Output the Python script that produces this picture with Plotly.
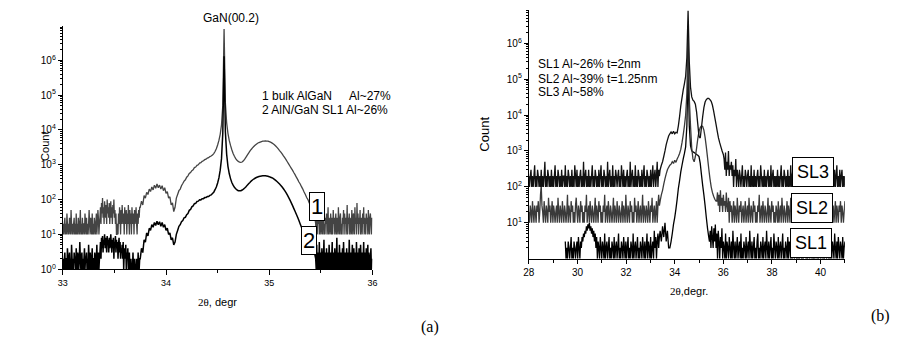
import numpy as np
import plotly.graph_objects as go

# ======================= Panel (a) =======================
# Each series is stored as scan segments: (2theta start, 2theta end, counts)
# curve 1: bulk AlGaN (gray)
A_BULK_X = [(33.0, 33.355), (33.36, 33.745), (33.75, 35.4375), (35.45, 35.995)]
A_BULK_NOISE_LEFT = [
    10, 20, 10, 20, 30, 10, 20, 10, 40, 20, 10, 20, 10, 30, 20, 10, 50, 20, 10, 20,
    10, 20, 30, 10, 20, 10, 40, 10, 20, 10, 30, 20, 10, 20, 50, 10, 20, 10, 30, 10,
    20, 20, 10, 40, 20, 10, 30, 10, 20, 10, 20, 50, 20, 10, 30, 20, 10, 40, 10, 20,
    10, 30, 20, 10, 20, 40, 10, 20, 50, 30, 10, 20,
]
A_BULK_NOISE_MID = [
    30, 60, 20, 80, 40, 110, 30, 60, 20, 90, 50, 30, 70, 20, 100, 40, 60, 30, 80, 20,
    50, 90, 30, 60, 20, 70, 40, 100, 30, 50, 20, 40, 10, 10, 20, 10,
    40, 20, 60, 30, 10, 50, 20, 70, 30, 20, 40, 10, 60, 20, 30, 50, 10, 40, 20, 70,
    30, 10, 50, 20, 40, 10, 60, 30, 20, 40, 10, 50, 20, 30, 60, 20, 10, 40, 20, 50, 30, 60,
]
A_BULK_MAIN = [
    60, 90, 70, 130, 110, 160, 140, 200, 170, 230, 190, 260, 210, 280, 220, 260, 200, 250, 180, 220,
    150, 170, 110, 120, 70, 80, 45, 60, 110,
    140, 180, 200, 250, 290, 340, 370, 440, 480, 560, 600, 680, 720, 830, 860, 960, 1000, 1120, 1150, 1250,
    1300, 1400, 1450, 1560, 1600, 1720, 1780, 1900, 2100, 2400, 2900, 3700, 5000, 7500, 14000, 50000, 8000000,
    60000, 16000, 8000, 5000, 3600, 2700, 2100, 1750, 1500, 1350, 1250, 1200, 1180, 1200,
    1300, 1450, 1650, 1900, 2150, 2450, 2750, 3050, 3350, 3650, 3900, 4150, 4350, 4500, 4650, 4750, 4800, 4850, 4800, 4750,
    4600, 4450, 4250, 4000, 3750, 3450, 3150, 2850, 2550, 2300, 2050, 1800, 1600, 1400, 1220, 1060, 920, 800, 700, 600,
    520, 440, 380, 320, 280, 235, 200, 165, 140, 115, 100, 80, 70, 60, 50, 40,
]
A_BULK_NOISE_RIGHT = [
    20, 10, 40, 10, 30, 20, 60, 10, 20, 30, 10, 40, 20, 10, 30, 50, 10, 20, 10, 30,
    20, 40, 10, 20, 60, 10, 30, 20, 10, 40, 20, 10, 30, 10, 50, 20, 30, 10, 20, 40,
    10, 30, 20, 10, 60, 20, 10, 30, 40, 10, 20, 10, 30, 20, 50, 10, 40, 20, 30, 10,
    20, 70, 10, 30, 20, 40, 10, 20, 30, 10, 50, 20, 10, 40, 30, 10, 60, 20, 30, 10,
    80, 20, 40, 10, 30, 20, 50, 10, 20, 30, 10, 40, 20, 60, 10, 30, 20, 10, 40, 20,
    30, 10, 50, 20, 10, 30, 40, 20, 10, 30,
]
# curve 2: AlN/GaN SL1 (black)
A_SL_X = A_BULK_X
A_SL_NOISE_LEFT = [
    1, 2, 1, 2, 3, 1, 2, 2, 1, 4, 2, 1, 2, 3, 1, 2, 1, 5, 2, 1,
    2, 1, 3, 2, 2, 1, 4, 2, 1, 3, 2, 1, 2, 6, 2, 1, 2, 3, 1, 2,
    1, 2, 4, 1, 2, 2, 3, 1, 2, 1, 5, 2, 1, 3, 2, 1, 2, 4, 1, 2,
    2, 1, 3, 2, 1, 2, 5, 1, 2, 3, 1, 2,
]
A_SL_NOISE_MID = [
    3, 6, 2, 8, 4, 9, 3, 7, 5, 10, 4, 8, 6, 3, 9, 5, 7, 3, 8, 4,
    6, 10, 5, 3, 7, 4, 8, 2, 6, 5, 9, 3, 7, 4, 6, 2, 5, 8, 3, 6,
    2, 4, 3, 5, 2, 6, 1, 3, 4, 2, 5, 1, 3, 2, 4, 1, 2, 3,
    1, 1, 2, 1, 1, 1, 3, 1, 1, 2, 1, 1, 1, 2, 1, 1, 3, 1, 1, 2,
]
A_SL_MAIN = [
    2, 4, 3, 7, 6, 11, 9, 15, 13, 19, 16, 22, 18, 24, 19, 23, 17, 22, 16, 19,
    13, 15, 10, 11, 7, 8, 5, 6, 10,
    13, 17, 19, 23, 25, 30, 31, 37, 40, 49, 52, 62, 66, 76, 78, 88, 90, 99, 98, 106,
    106, 114, 114, 122, 123, 132, 136, 150, 163, 192, 230, 300, 420, 700, 1500, 8000, 1300000,
    9000, 2000, 900, 560, 400, 310, 260, 225, 205, 190, 180, 178, 180, 188,
    200, 215, 235, 260, 285, 310, 340, 365, 390, 410, 430, 445, 460, 470, 478, 482, 485, 482, 475, 465,
    455, 440, 425, 405, 380, 355, 330, 305, 280, 255, 230, 205, 180, 158, 136, 116, 98, 82, 68, 56,
    46, 38, 31, 25, 20, 16, 13, 11, 9, 8, 7, 6, 5, 6, 4, 3,
]
A_SL_NOISE_RIGHT = [
    2, 1, 5, 1, 3, 2, 1, 6, 2, 1, 3, 1, 4, 2, 1, 2, 7, 1, 3, 2,
    1, 4, 1, 2, 3, 1, 5, 2, 1, 3, 1, 2, 6, 1, 2, 3, 1, 4, 2, 1,
    2, 8, 1, 3, 2, 1, 5, 2, 1, 3, 1, 2, 4, 1, 6, 2, 1, 3, 2, 1,
    4, 1, 2, 3, 1, 7, 2, 1, 3, 1, 2, 5, 1, 2, 4, 1, 3, 2, 1, 6,
    2, 1, 3, 1, 4, 2, 1, 5, 2, 1, 3, 1, 2, 6, 1, 2, 3, 1, 4, 1,
    2, 5, 1, 3, 2, 1, 2, 4, 1, 2,
]

# ======================= Panel (b) =======================
B_SL3_X = [(28.0, 33.37), (33.4, 36.0), (36.03, 41.0)]
B_SL3_NOISE_LEFT = [
    200, 100, 200, 300, 100, 200, 100, 200, 400, 100, 200, 100, 300, 200, 100, 200, 100, 300, 100, 200,
    100, 200, 500, 100, 200, 100, 300, 200, 100, 200, 100, 300, 100, 200, 100, 200, 400, 100, 200, 100,
    300, 200, 100, 200, 100, 300, 100, 200, 200, 100, 400, 100, 200, 100, 300, 200, 100, 200, 100, 300,
    100, 200, 100, 400, 200, 100, 300, 100, 200, 100, 200, 300, 100, 200, 100, 500, 100, 200, 300, 100,
    200, 100, 300, 100, 200, 100, 200, 400, 100, 200, 100, 300, 200, 100, 200, 100, 300, 100, 200, 400,
    100, 200, 100, 300, 200, 100, 200, 100, 500, 100, 200, 300, 100, 200, 100, 400, 100, 200, 100, 300,
    200, 100, 200, 300, 100, 200, 100, 400, 200, 100, 300, 100, 200, 100, 200, 300, 100, 200, 100, 500,
    100, 200, 300, 100, 200, 100, 400, 100, 200, 100, 300, 200, 100, 200, 100, 300, 100, 200, 400, 100,
    200, 100, 300, 200, 100, 200, 100, 300, 100, 200, 400, 100, 200, 300, 100, 200, 500, 100, 300, 200,
]
B_SL3_MAIN = [
    300, 400, 500, 700, 1000, 1500, 2000, 2600, 3000, 3400, 3000, 3500, 3000, 3300, 3200,
    5000, 9000, 18000, 30000, 50000, 75000, 120000, 400000, 8000000, 300000, 60000, 32000, 26000, 24000, 20000,
    12000, 5500, 2500, 2300, 4500, 9000, 16000, 23000, 27000, 29000, 29000, 27000, 24000, 19000, 13000,
    8500, 5500, 3500, 2300, 1700, 1300, 1000, 800,
]
B_SL3_NOISE_RIGHT = [
    600, 300, 900, 200, 500, 300, 1000, 200, 400, 300, 500, 200, 400, 100, 300, 200, 600, 100, 300, 200,
    100, 300, 200, 100, 200, 400, 100, 200, 100, 300, 200, 100, 200, 300, 100, 200, 100, 400, 100, 200,
    100, 300, 100, 200, 100, 200, 300, 100, 200, 100, 400, 200, 100, 200, 100, 300, 100, 200, 100, 200,
    300, 100, 200, 100, 400, 100, 200, 300, 100, 200, 100, 200, 100, 300, 100, 200, 100, 200, 400, 100,
    200, 100, 300, 200, 100, 200, 100, 300, 100, 200, 100, 400, 100, 200, 300, 100, 200, 100, 200, 100,
    300, 100, 200, 100, 200, 400, 100, 200, 100, 300, 200, 100, 200, 100, 300, 100, 200, 300, 100, 200,
    100, 200, 400, 100, 200, 100, 300, 100, 200, 100, 300, 200, 100, 200, 100, 300, 100, 400, 200, 100,
    200, 100, 300, 100, 200, 100, 200, 300, 100, 200, 100, 300, 100, 200, 400, 100, 200, 100, 300, 100,
    200, 300, 100, 200, 100, 200,
]

B_SL2_X = [(28.0, 33.37), (33.4, 35.7), (35.73, 41.0)]
B_SL2_NOISE_LEFT = [
    20, 10, 30, 20, 10, 40, 20, 10, 30, 20, 10, 30, 20, 40, 10, 20, 60, 110, 30, 20,
    10, 40, 20, 10, 30, 20, 10, 50, 20, 30, 10, 20, 40, 10, 30, 20, 10, 20, 30, 10,
    50, 20, 10, 30, 20, 10, 40, 20, 10, 30, 20, 10, 20, 60, 10, 30, 20, 10, 40, 20,
    30, 10, 20, 10, 30, 50, 20, 10, 30, 20, 10, 40, 20, 30, 10, 20, 10, 30, 20, 60,
    10, 20, 30, 10, 40, 20, 10, 30, 20, 10, 20, 50, 10, 30, 20, 10, 40, 20, 30, 10,
    20, 10, 30, 20, 60, 10, 20, 30, 10, 40, 20, 10, 30, 20, 10, 20, 50, 10, 30, 20,
    10, 40, 20, 10, 30, 20, 10, 20, 40, 10, 30, 20, 10, 60, 20, 10, 30, 20, 10, 40,
    20, 30, 10, 20, 10, 50, 20, 30, 10, 20, 40, 10, 20, 30, 10, 20, 60, 10, 30, 20,
    10, 30, 20, 10, 40, 20, 10, 30, 20, 50, 10, 20, 30, 10, 20, 40, 10, 30, 60, 30,
]
B_SL2_MAIN = [
    40, 60, 80, 120, 170, 230, 300, 350, 400, 430, 500, 450, 550, 480, 600,
    700, 850, 1100, 1700, 2800, 5000, 10000, 40000, 1500000, 30000, 5000, 1200, 600, 500, 700,
    1200, 2200, 3500, 4500, 5000, 4800, 3800, 2400, 1300, 650, 320, 170, 100, 70, 55,
    45, 40,
]
B_SL2_NOISE_RIGHT = [
    40, 70, 30, 60, 20, 80, 30, 50, 20, 60, 30, 40, 20, 70, 30, 20, 50, 10, 40, 20,
    30, 10, 20, 40, 10, 30, 20, 10, 50, 20, 10, 30, 20, 40, 10, 20, 30, 10, 20, 40,
    10, 20, 30, 10, 50, 20, 10, 30, 20, 10, 40, 20, 30, 10, 20, 10, 30, 20, 60, 10,
    20, 30, 10, 40, 20, 10, 30, 20, 10, 20, 50, 10, 30, 20, 10, 40, 20, 30, 10, 20,
    10, 30, 20, 10, 40, 10, 20, 30, 10, 50, 20, 10, 30, 20, 10, 20, 40, 10, 30, 20,
    10, 50, 20, 30, 10, 20, 10, 40, 20, 10, 30, 20, 10, 40, 20, 10, 30, 10, 20, 50,
    10, 20, 30, 10, 20, 40, 10, 30, 20, 10, 40, 20, 10, 30, 20, 10, 50, 20, 30, 10,
    20, 10, 30, 40, 10, 20, 10, 30, 20, 10, 30, 50, 20, 10, 30, 20, 10, 40, 20, 30,
    10, 20, 40, 10, 30, 20, 10, 30, 20, 40, 10, 30, 20, 10, 20, 40,
]

B_SL1_X = [(29.5, 33.37), (33.4, 35.4), (35.43, 41.0)]
B_SL1_NOISE_LEFT = [
    3, 1, 2, 1, 3, 2, 1, 2, 4, 1, 2, 1, 3, 2, 1, 2, 3, 1, 4, 2,
    1, 3, 2, 4, 3, 5, 4, 6, 5, 8, 6, 9, 7, 10, 6, 8, 5, 7, 4, 6,
    3, 5, 2, 4, 1, 3, 2, 1, 4, 2, 1, 3, 2, 1, 5, 1, 2, 3, 1, 2,
    4, 1, 2, 1, 3, 2, 1, 4, 1, 2, 3, 1, 2, 5, 1, 2, 1, 3, 2, 1,
    4, 2, 1, 3, 1, 2, 4, 1, 2, 1, 3, 2, 1, 5, 1, 2, 3, 1, 2, 4,
    1, 2, 1, 3, 2, 1, 4, 2, 1, 3, 1, 2, 5, 1, 3, 2, 1, 4, 1, 2,
    3, 1, 6, 2, 4, 1, 3, 5, 2, 4,
]
B_SL1_MAIN = [
    6, 3, 8, 4, 10, 3, 6, 2, 2, 3, 5, 9, 14, 24, 45, 90, 150, 260, 400, 600,
    850, 1300, 5000, 200000, 5000, 1400, 1000, 950, 900, 850, 800, 760, 700, 450, 220, 110, 60, 30, 14, 7, 4,
]
B_SL1_NOISE_RIGHT = [
    3, 6, 2, 8, 4, 2, 7, 3, 9, 2, 5, 1, 6, 3, 1, 4, 2, 7, 1, 3,
    2, 1, 5, 1, 3, 2, 1, 4, 2, 1, 3, 1, 6, 2, 1, 3, 1, 2, 4, 1,
    2, 3, 1, 5, 1, 2, 1, 3, 2, 1, 4, 1, 2, 3, 1, 6, 2, 1, 3, 1,
    2, 4, 1, 2, 1, 3, 5, 1, 2, 1, 3, 2, 1, 4, 1, 2, 3, 1, 6, 2,
    1, 3, 1, 2, 4, 1, 2, 1, 5, 2, 1, 3, 2, 1, 4, 1, 2, 3, 1, 2,
    5, 1, 2, 1, 3, 2, 1, 4, 1, 3, 2, 1, 6, 1, 2, 3, 1, 2, 4, 1,
    3, 1, 2, 1, 5, 2, 1, 3, 1, 2, 4, 2, 1, 3, 1, 2, 6, 1, 2, 3,
    1, 4, 1, 2, 1, 3, 2, 1, 5, 1, 2, 3, 1, 4, 2, 1, 3, 1, 2, 6,
    1, 2, 3, 1, 4, 1, 2, 1, 3, 2, 1, 5, 2, 1, 3, 1, 4, 2, 1, 3,
    2, 1, 4, 1, 2, 3,
]

A_XTICKS = [33, 34, 35, 36]
A_YTICKS = [1, 10, 100, 1e3, 1e4, 1e5, 1e6]
A_YTICK_TEXT = ["10<sup>0</sup>", "10<sup>1</sup>", "10<sup>2</sup>", "10<sup>3</sup>",
                "10<sup>4</sup>", "10<sup>5</sup>", "10<sup>6</sup>"]
B_XTICKS = [28, 30, 32, 34, 36, 38, 40]
B_YTICKS = [10, 100, 1e3, 1e4, 1e5, 1e6]
B_YTICK_TEXT = ["10<sup>1</sup>", "10<sup>2</sup>", "10<sup>3</sup>",
                "10<sup>4</sup>", "10<sup>5</sup>", "10<sup>6</sup>"]
MINOR_LOG = [m * 10 ** d for d in range(0, 7) for m in range(2, 10)]

SANS = "Liberation Sans, Arial, sans-serif"
SERIF = "Liberation Serif, Times New Roman, serif"


def series(ranges, parts):
    x, y = [], []
    for (a, b), vals in zip(ranges, parts):
        x.extend(np.linspace(a, b, len(vals)))
        y.extend(vals)
    return x, y


ax_, ay_ = series(A_BULK_X, [A_BULK_NOISE_LEFT, A_BULK_NOISE_MID, A_BULK_MAIN, A_BULK_NOISE_RIGHT])
sx_, sy_ = series(A_SL_X, [A_SL_NOISE_LEFT, A_SL_NOISE_MID, A_SL_MAIN, A_SL_NOISE_RIGHT])
b3x, b3y = series(B_SL3_X, [B_SL3_NOISE_LEFT, B_SL3_MAIN, B_SL3_NOISE_RIGHT])
b2x, b2y = series(B_SL2_X, [B_SL2_NOISE_LEFT, B_SL2_MAIN, B_SL2_NOISE_RIGHT])
b1x, b1y = series(B_SL1_X, [B_SL1_NOISE_LEFT, B_SL1_MAIN, B_SL1_NOISE_RIGHT])

fig = go.Figure()
fig.add_trace(go.Scatter(x=ax_, y=ay_, mode="lines",
                         line=dict(color="#444444", width=1.3, simplify=False), xaxis="x", yaxis="y"))
fig.add_trace(go.Scatter(x=sx_, y=sy_, mode="lines",
                         line=dict(color="#000000", width=1.5, simplify=False), xaxis="x", yaxis="y"))
fig.add_trace(go.Scatter(x=b1x, y=b1y, mode="lines",
                         line=dict(color="#000000", width=1.3, simplify=False), xaxis="x2", yaxis="y2"))
fig.add_trace(go.Scatter(x=b2x, y=b2y, mode="lines",
                         line=dict(color="#3a3a3a", width=1.3, simplify=False), xaxis="x2", yaxis="y2"))
fig.add_trace(go.Scatter(x=b3x, y=b3y, mode="lines",
                         line=dict(color="#111111", width=1.3, simplify=False), xaxis="x2", yaxis="y2"))

W, H = 899, 342
axis_common = dict(showgrid=False, zeroline=False, showline=True, linecolor="black",
                   linewidth=1, ticks="outside", tickcolor="black", tickwidth=1)

fig.update_layout(
    width=W, height=H, margin=dict(l=0, r=0, t=0, b=0),
    paper_bgcolor="white", plot_bgcolor="white", showlegend=False,
    font=dict(family=SANS, color="black"),
    xaxis=dict(domain=[57.5 / W, 371 / W], range=[33, 36], anchor="y",
               tickvals=A_XTICKS, ticklen=5, tickfont=dict(size=9, family=SANS),
               minor=dict(dtick=0.5, ticks="outside", ticklen=3, tickcolor="black"),
               **axis_common),
    yaxis=dict(domain=[1 - 274 / H, 1 - 26 / H], type="log", range=[0, 7.0], anchor="x",
               tickvals=A_YTICKS, ticktext=A_YTICK_TEXT, ticklen=4,
               tickfont=dict(size=10, family=SANS),
               minor=dict(tickvals=MINOR_LOG, ticks="outside", ticklen=2, tickcolor="black"),
               **axis_common),
    xaxis2=dict(domain=[529.3 / W, 849.3 / W], range=[28, 41], anchor="y2",
                tickvals=B_XTICKS, ticklen=4, tickfont=dict(size=10, family=SANS),
                minor=dict(dtick=1, ticks="outside", ticklen=3, tickcolor="black"),
                **axis_common),
    yaxis2=dict(domain=[1 - 263.3 / H, 1 - 10 / H], type="log", range=[0, 6.93], anchor="x2",
                tickvals=B_YTICKS, ticktext=B_YTICK_TEXT, ticklen=4,
                tickfont=dict(size=10, family=SANS),
                minor=dict(tickvals=MINOR_LOG, ticks="outside", ticklen=2, tickcolor="black"),
                **axis_common),
)


def px(x, y):
    return x / W, 1 - y / H


ann = []


def text(s, x, y, size, xanchor="center", family=SANS, angle=0):
    X, Y = px(x, y)
    ann.append(dict(text=s, x=X, y=Y, xref="paper", yref="paper", showarrow=False,
                    xanchor=xanchor, yanchor="middle", textangle=angle,
                    font=dict(size=size, family=family, color="black")))


text("GaN(00.2)", 228, 18, 12)
text("1 bulk AlGaN", 257, 98, 12, "left")
text("Al~27%", 345, 98, 12, "left")
text("2 AlN/GaN SL1 Al~26%", 257, 112, 12, "left")
text("Count", 40, 149, 11, angle=-90)
text("<span style='font-family:Liberation Serif'>2θ</span>, degr", 214, 307, 11)
text("(a)", 429, 333, 16, family=SERIF)

text("SL1 Al~26% t=2nm", 537, 65, 12, "left")
text("SL2 Al~39% t=1.25nm", 537, 80, 12, "left")
text("SL3 Al~58%", 537, 94, 12, "left")
text("Count", 485, 137, 13, angle=-90)
text("<span style='font-family:Liberation Serif'>2θ</span>,degr.", 691, 296, 11)
text("(b)", 885, 322, 16, family=SERIF)


# label boxes (data coordinates; log10 for y on log axes)
def box(s, x, ylog, xr, yr, size, pad):
    ann.append(dict(text=s, x=x, y=ylog, xref=xr, yref=yr, showarrow=False,
                    xanchor="center", yanchor="middle", bgcolor="white",
                    bordercolor="black", borderwidth=1, borderpad=pad,
                    font=dict(size=size, family=SANS, color="black")))


box("1", 35.464, 1.806, "x", "y", 22, 1)
box("2", 35.388, 0.818, "x", "y", 22, 1)
box("SL3", 39.675, 2.40, "x2", "y2", 18, 4)
box("SL2", 39.63, 1.417, "x2", "y2", 18, 4)
box("SL1", 39.59, 0.432, "x2", "y2", 18, 4)

fig.update_layout(annotations=ann)
fig.write_html("out.html")
